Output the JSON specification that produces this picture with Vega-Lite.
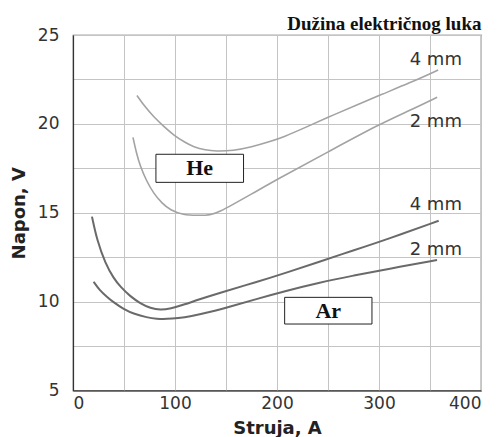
{
  "$schema": "https://vega.github.io/schema/vega-lite/v6.json",
  "width": 408,
  "height": 355.5,
  "autosize": "none",
  "padding": {"left": 73, "top": 35, "right": 18, "bottom": 46.5},
  "background": "white",
  "title": {
    "text": "Dužina električnog luka",
    "anchor": "end",
    "font": "Liberation Serif",
    "fontSize": 19,
    "fontWeight": "bold",
    "color": "#111",
    "offset": -8
  },
  "config": {
    "view": {"stroke": "#555", "strokeWidth": 1.2},
    "axis": {
      "labelFont": "DejaVu Sans",
      "labelFontSize": 17,
      "labelColor": "#333",
      "titleFont": "DejaVu Sans",
      "titleFontSize": 18,
      "titleFontWeight": "bold",
      "titleColor": "#222",
      "tickSize": 0,
      "grid": true,
      "gridColor": "#c4c4c4",
      "gridOpacity": 1,
      "domainColor": "#333",
      "domainWidth": 1.2
    }
  },
  "datasets": {
    "curves": [
      {"s": "He 4 mm", "gas": "He", "I": 62.7, "U": 21.6},
      {"s": "He 4 mm", "gas": "He", "I": 70, "U": 21.0},
      {"s": "He 4 mm", "gas": "He", "I": 79, "U": 20.4},
      {"s": "He 4 mm", "gas": "He", "I": 90, "U": 19.8},
      {"s": "He 4 mm", "gas": "He", "I": 98.6, "U": 19.37},
      {"s": "He 4 mm", "gas": "He", "I": 110, "U": 18.95},
      {"s": "He 4 mm", "gas": "He", "I": 118, "U": 18.71},
      {"s": "He 4 mm", "gas": "He", "I": 130, "U": 18.52},
      {"s": "He 4 mm", "gas": "He", "I": 140, "U": 18.46},
      {"s": "He 4 mm", "gas": "He", "I": 157, "U": 18.49},
      {"s": "He 4 mm", "gas": "He", "I": 175, "U": 18.7},
      {"s": "He 4 mm", "gas": "He", "I": 193, "U": 19.0},
      {"s": "He 4 mm", "gas": "He", "I": 206, "U": 19.25},
      {"s": "He 4 mm", "gas": "He", "I": 230, "U": 19.85},
      {"s": "He 4 mm", "gas": "He", "I": 255, "U": 20.5},
      {"s": "He 4 mm", "gas": "He", "I": 280, "U": 21.1},
      {"s": "He 4 mm", "gas": "He", "I": 301, "U": 21.62},
      {"s": "He 4 mm", "gas": "He", "I": 330, "U": 22.3},
      {"s": "He 4 mm", "gas": "He", "I": 358, "U": 23.03},
      {"s": "He 2 mm", "gas": "He", "I": 58.8, "U": 19.24},
      {"s": "He 2 mm", "gas": "He", "I": 62, "U": 18.4},
      {"s": "He 2 mm", "gas": "He", "I": 66, "U": 17.6},
      {"s": "He 2 mm", "gas": "He", "I": 72, "U": 16.8},
      {"s": "He 2 mm", "gas": "He", "I": 79, "U": 16.09},
      {"s": "He 2 mm", "gas": "He", "I": 87, "U": 15.55},
      {"s": "He 2 mm", "gas": "He", "I": 95.4, "U": 15.15},
      {"s": "He 2 mm", "gas": "He", "I": 108, "U": 14.87},
      {"s": "He 2 mm", "gas": "He", "I": 122, "U": 14.85},
      {"s": "He 2 mm", "gas": "He", "I": 136, "U": 14.87},
      {"s": "He 2 mm", "gas": "He", "I": 145, "U": 15.1},
      {"s": "He 2 mm", "gas": "He", "I": 154, "U": 15.38},
      {"s": "He 2 mm", "gas": "He", "I": 175, "U": 16.05},
      {"s": "He 2 mm", "gas": "He", "I": 200, "U": 16.88},
      {"s": "He 2 mm", "gas": "He", "I": 250, "U": 18.42},
      {"s": "He 2 mm", "gas": "He", "I": 301, "U": 20.0},
      {"s": "He 2 mm", "gas": "He", "I": 330, "U": 20.75},
      {"s": "He 2 mm", "gas": "He", "I": 357, "U": 21.5},
      {"s": "Ar 4 mm", "gas": "Ar", "I": 18.6, "U": 14.78},
      {"s": "Ar 4 mm", "gas": "Ar", "I": 23.5, "U": 13.46},
      {"s": "Ar 4 mm", "gas": "Ar", "I": 31.7, "U": 12.15},
      {"s": "Ar 4 mm", "gas": "Ar", "I": 40, "U": 11.3},
      {"s": "Ar 4 mm", "gas": "Ar", "I": 46.4, "U": 10.84},
      {"s": "Ar 4 mm", "gas": "Ar", "I": 56, "U": 10.3},
      {"s": "Ar 4 mm", "gas": "Ar", "I": 66, "U": 9.9},
      {"s": "Ar 4 mm", "gas": "Ar", "I": 76, "U": 9.63},
      {"s": "Ar 4 mm", "gas": "Ar", "I": 85.6, "U": 9.52},
      {"s": "Ar 4 mm", "gas": "Ar", "I": 95.4, "U": 9.6},
      {"s": "Ar 4 mm", "gas": "Ar", "I": 110, "U": 9.85},
      {"s": "Ar 4 mm", "gas": "Ar", "I": 121.6, "U": 10.09},
      {"s": "Ar 4 mm", "gas": "Ar", "I": 144, "U": 10.5},
      {"s": "Ar 4 mm", "gas": "Ar", "I": 180, "U": 11.1},
      {"s": "Ar 4 mm", "gas": "Ar", "I": 209.8, "U": 11.64},
      {"s": "Ar 4 mm", "gas": "Ar", "I": 240, "U": 12.22},
      {"s": "Ar 4 mm", "gas": "Ar", "I": 275, "U": 12.88},
      {"s": "Ar 4 mm", "gas": "Ar", "I": 307.8, "U": 13.5},
      {"s": "Ar 4 mm", "gas": "Ar", "I": 358.5, "U": 14.55},
      {"s": "Ar 2 mm", "gas": "Ar", "I": 20.2, "U": 11.12},
      {"s": "Ar 2 mm", "gas": "Ar", "I": 26, "U": 10.65},
      {"s": "Ar 2 mm", "gas": "Ar", "I": 33.3, "U": 10.27},
      {"s": "Ar 2 mm", "gas": "Ar", "I": 40, "U": 9.95},
      {"s": "Ar 2 mm", "gas": "Ar", "I": 49.6, "U": 9.58},
      {"s": "Ar 2 mm", "gas": "Ar", "I": 60, "U": 9.3},
      {"s": "Ar 2 mm", "gas": "Ar", "I": 72.5, "U": 9.11},
      {"s": "Ar 2 mm", "gas": "Ar", "I": 82, "U": 9.03},
      {"s": "Ar 2 mm", "gas": "Ar", "I": 92, "U": 9.02},
      {"s": "Ar 2 mm", "gas": "Ar", "I": 103, "U": 9.07},
      {"s": "Ar 2 mm", "gas": "Ar", "I": 115, "U": 9.17},
      {"s": "Ar 2 mm", "gas": "Ar", "I": 135, "U": 9.42},
      {"s": "Ar 2 mm", "gas": "Ar", "I": 154, "U": 9.72},
      {"s": "Ar 2 mm", "gas": "Ar", "I": 180, "U": 10.15},
      {"s": "Ar 2 mm", "gas": "Ar", "I": 209.8, "U": 10.62},
      {"s": "Ar 2 mm", "gas": "Ar", "I": 240, "U": 11.05},
      {"s": "Ar 2 mm", "gas": "Ar", "I": 275, "U": 11.47},
      {"s": "Ar 2 mm", "gas": "Ar", "I": 310, "U": 11.85},
      {"s": "Ar 2 mm", "gas": "Ar", "I": 356.9, "U": 12.34}
    ],
    "boxes": [
      {"gas": "He", "x1": 81.3, "x2": 167.2, "y1": 18.29, "y2": 16.71, "xc": 124.2, "yc": 17.5},
      {"gas": "Ar", "x1": 207.5, "x2": 293.1, "y1": 10.24, "y2": 8.74, "xc": 250.3, "yc": 9.49}
    ],
    "labels": [
      {"t": "4 mm", "I": 355.7, "U": 23.59},
      {"t": "2 mm", "I": 355.7, "U": 20.08},
      {"t": "4 mm", "I": 355.7, "U": 15.43},
      {"t": "2 mm", "I": 355.7, "U": 12.9}
    ]
  },
  "layer": [
    {
      "data": {"name": "curves"},
      "mark": {"type": "line", "interpolate": "basis"},
      "encoding": {
        "x": {
          "field": "I", "type": "quantitative",
          "scale": {"domain": [0, 400], "nice": false},
          "axis": {
            "title": "Struja, A",
            "values": [0, 50, 100, 150, 200, 250, 300, 350, 400],
            "labelExpr": "datum.value % 100 == 0 ? datum.label : ''",
            "labelPadding": 5,
            "titlePadding": 8
          }
        },
        "y": {
          "field": "U", "type": "quantitative",
          "scale": {"domain": [5, 25], "nice": false},
          "axis": {
            "title": "Napon, V",
            "values": [5, 7.5, 10, 12.5, 15, 17.5, 20, 22.5, 25],
            "labelExpr": "datum.value % 5 == 0 ? datum.label : ''",
            "labelPadding": 14,
            "titlePadding": 9
          }
        },
        "detail": {"field": "s"},
        "color": {"field": "gas", "type": "nominal", "scale": {"domain": ["He", "Ar"], "range": ["#a3a3a3", "#6a6a6a"]}, "legend": null},
        "strokeWidth": {"field": "gas", "type": "nominal", "scale": {"domain": ["He", "Ar"], "range": [1.6, 2]}, "legend": null}
      }
    },
    {
      "data": {"name": "boxes"},
      "mark": {"type": "rect", "fill": "white", "stroke": "#222", "strokeWidth": 1},
      "encoding": {
        "x": {"field": "x1", "type": "quantitative"},
        "x2": {"field": "x2"},
        "y": {"field": "y1", "type": "quantitative"},
        "y2": {"field": "y2"}
      }
    },
    {
      "data": {"name": "boxes"},
      "mark": {"type": "text", "font": "Liberation Serif", "fontSize": 22, "fontWeight": "bold", "color": "#111", "baseline": "middle", "align": "center"},
      "encoding": {
        "x": {"field": "xc", "type": "quantitative"},
        "y": {"field": "yc", "type": "quantitative"},
        "text": {"field": "gas"}
      }
    },
    {
      "data": {"name": "labels"},
      "mark": {"type": "text", "font": "DejaVu Sans", "fontSize": 18, "color": "#333", "baseline": "middle", "align": "center"},
      "encoding": {
        "x": {"field": "I", "type": "quantitative"},
        "y": {"field": "U", "type": "quantitative"},
        "text": {"field": "t"}
      }
    }
  ]
}
